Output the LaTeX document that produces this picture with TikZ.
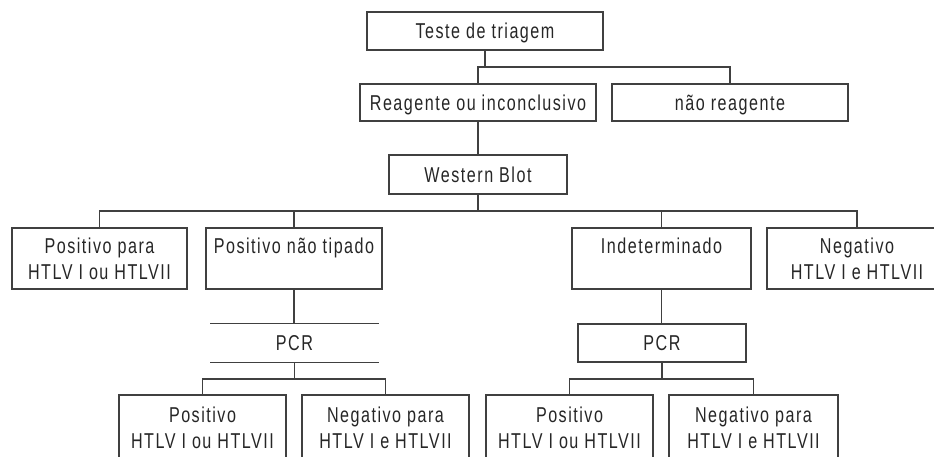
\documentclass[tikz,border=0pt]{standalone}
\usepackage{fontspec}
\setmainfont{Liberation Sans}[FakeStretch=0.75,LetterSpace=7]
\usepackage{tikz}
\definecolor{linegray}{gray}{0.25}

\begin{document}
\begin{tikzpicture}[x=1pt, y=-1pt,
    every node/.style={font=\fontsize{21.5}{26}\selectfont, inner sep=0pt, align=center, text=black!85},
    onebox/.style={draw=linegray, line width=1.2pt, minimum height=38pt, text height=15.4pt, text depth=0pt},
    twobox/.style={draw=linegray, line width=1.2pt, minimum height=61pt},
    link/.style={draw=linegray, line width=1.2pt}]
      \useasboundingbox (0,0) rectangle (934,457);

      % teste de triagem
      \node[onebox, minimum width=236pt] (teste) at (485,31) {Teste de triagem};

      % first result
      \node[onebox, minimum width=236pt, minimum height=37pt] (reag) at (478,102.5) {Reagente ou inconclusivo};
      \node[onebox, minimum width=236pt, minimum height=37pt] (naoreag) at (730,102.5) {não reagente};
      \coordinate (barA) at (0,67);
      \draw[link] (teste.south) -- (teste.south |- barA);
      \draw[link] (reag.north) |- (naoreag.north |- barA) -- (naoreag.north);

      % western blot
      \node[onebox, minimum width=178pt, minimum height=39pt] (wb) at (478,174.5) {Western Blot};
      \draw[link] (reag.south) -- (wb.north);

      % western blot results
      \node[twobox, minimum width=175pt] (pospara) at (99.5,258.5) {Positivo para\\HTLV I ou HTLVII};
      \node[twobox, minimum width=176pt] (posnt) at (294,258.5) {Positivo não tipado\\\mbox{}};
      \node[twobox, minimum width=179pt] (indet) at (661.5,258.5) {Indeterminado\\\mbox{}};
      \node[twobox, minimum width=180pt] (neg) at (857,258.5) {Negativo\\HTLV I e HTLVII};
      \coordinate (barB) at (0,211);
      \draw[link] (wb.south) -- (wb.south |- barB);
      \draw[link] (pospara.north) |- (neg.north |- barB) -- (neg.north);
      \draw[link] (posnt.north) -- (posnt.north |- barB);
      \draw[link] (indet.north) -- (indet.north |- barB);

      % PCR, left (open lines)
      \node[onebox, draw=none, minimum width=167pt] (pcrA) at (294.5,343) {PCR};
      \draw[link] (pcrA.north west) -- (pcrA.north east);
      \draw[link] (pcrA.south west) -- (pcrA.south east);
      \draw[link] (posnt.south) -- (posnt.south |- pcrA.north);

      % PCR, right
      \node[onebox, minimum width=168pt] (pcrB) at (662,343) {PCR};
      \draw[link] (indet.south) -- (indet.south |- pcrB.north);

      % PCR results
      \node[twobox, minimum width=167pt, minimum height=66pt] (posA) at (202.5,428) {Positivo\\HTLV I ou HTLVII};
      \node[twobox, minimum width=167pt, minimum height=66pt] (negA) at (385.5,428) {Negativo para\\HTLV I e HTLVII};
      \node[twobox, minimum width=167pt, minimum height=66pt] (posB) at (569.5,428) {Positivo\\HTLV I ou HTLVII};
      \node[twobox, minimum width=169pt, minimum height=66pt] (negB) at (753.5,428) {Negativo para\\HTLV I e HTLVII};
      \coordinate (barC) at (0,379);
      \draw[link] (pcrA.south) -- (pcrA.south |- barC);
      \draw[link] (posA.north) |- (negA.north |- barC) -- (negA.north);
      \draw[link] (pcrB.south) -- (pcrB.south |- barC);
      \draw[link] (posB.north) |- (negB.north |- barC) -- (negB.north);
\end{tikzpicture}
\end{document}
